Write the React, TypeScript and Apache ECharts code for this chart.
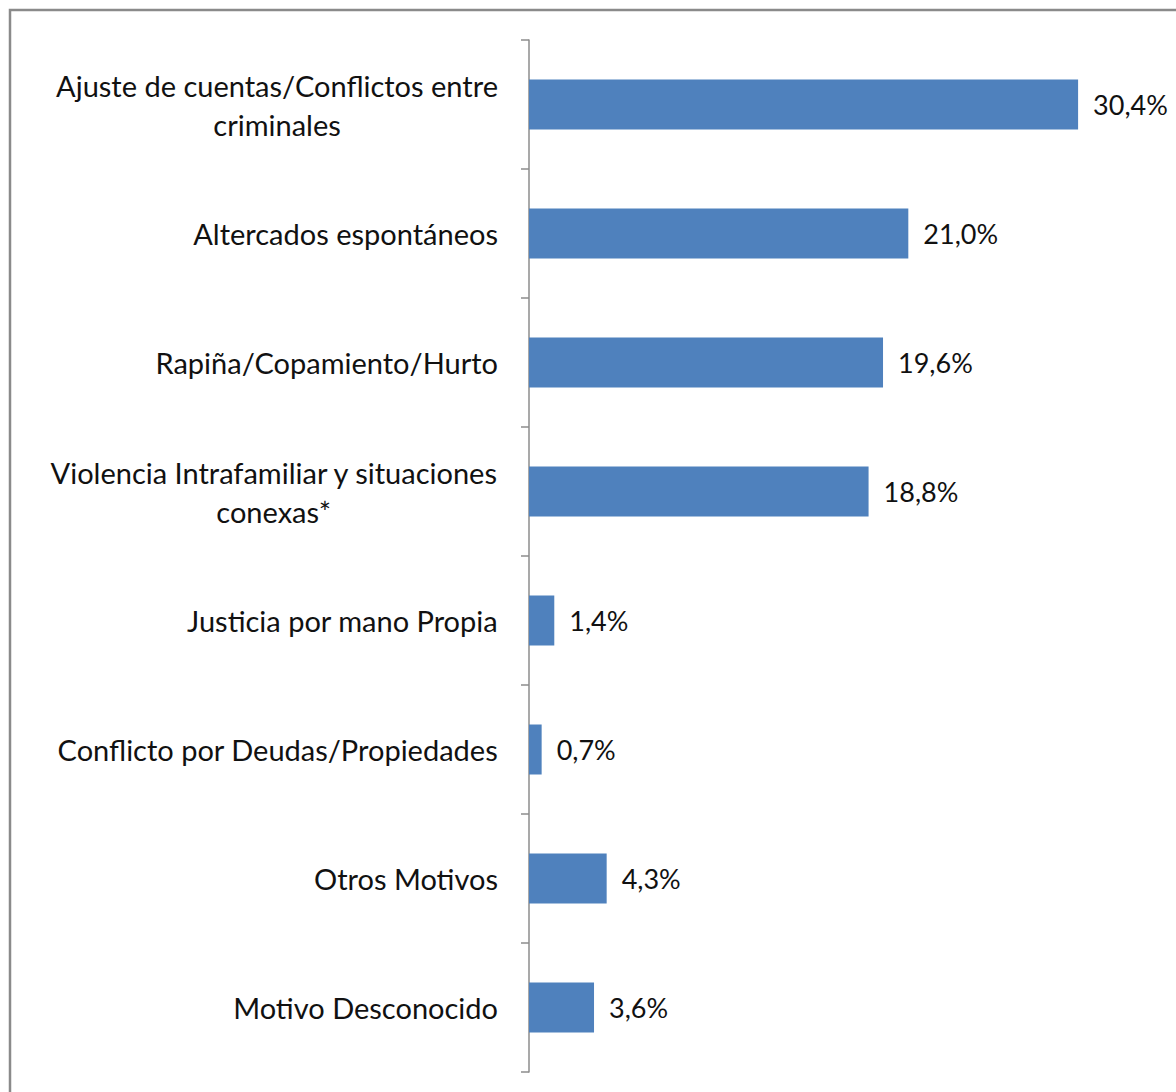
import React, { useEffect, useRef } from "react";
import * as echarts from "echarts";

const categories = [
  "Ajuste de cuentas/Conflictos entre\ncriminales",
  "Altercados espontáneos",
  "Rapiña/Copamiento/Hurto",
  "Violencia Intrafamiliar y situaciones\nconexas*",
  "Justicia por mano Propia",
  "Conflicto por Deudas/Propiedades",
  "Otros Motivos",
  "Motivo Desconocido",
];
const values = [30.4, 21.0, 19.6, 18.8, 1.4, 0.7, 4.3, 3.6];

const FONT = "Lato, 'Noto Sans', sans-serif";

export default function App() {
  const ref = useRef<HTMLDivElement>(null);
  useEffect(() => {
    if (!ref.current) return;
    const chart = echarts.init(ref.current, null, { renderer: "svg" });
    chart.setOption({
      animation: false,
      backgroundColor: "#ffffff",
      grid: { left: 529, top: 40, bottom: 20, right: 69, containLabel: false },
      graphic: [
        {
          type: "rect",
          shape: { x: 10, y: 10, width: 1300, height: 1300 },
          style: { fill: "none", stroke: "#8a8a8a", lineWidth: 2.5 },
          silent: true,
        },
      ],
      xAxis: {
        type: "value",
        min: 0,
        max: 32,
        show: false,
      },
      yAxis: {
        type: "category",
        inverse: true,
        data: categories,
        axisLine: { show: true, lineStyle: { color: "#8c8c8c", width: 1.5 } },
        axisTick: { show: true, length: 8, lineStyle: { color: "#8c8c8c", width: 1.5 } },
        axisLabel: {
          margin: 31,
          color: "#111111",
          fontFamily: FONT,
          fontSize: 29,
          lineHeight: 39,
          formatter: (v: string) =>
            v
              .split("\n")
              .map((l) => "{a|" + l + "}")
              .join("\n"),
          rich: {
            a: {
              align: "center",
              color: "#111111",
              fontFamily: FONT,
              fontSize: 29,
              lineHeight: 39,
            },
          },
        },
        splitLine: { show: false },
      },
      series: [
        {
          type: "bar",
          data: values,
          barWidth: 50,
          itemStyle: { color: "#4F81BD" },
          label: {
            show: true,
            position: "right",
            distance: 15,
            color: "#111111",
            fontFamily: FONT,
            fontSize: 27,
            formatter: (p: any) => p.value.toFixed(1).replace(".", ",") + "%",
          },
        },
      ],
    });
    return () => chart.dispose();
  }, []);
  return (
    <div
      ref={ref}
      style={{ position: "absolute", left: 0, top: 0, width: 1176, height: 1092 }}
    />
  );
}
